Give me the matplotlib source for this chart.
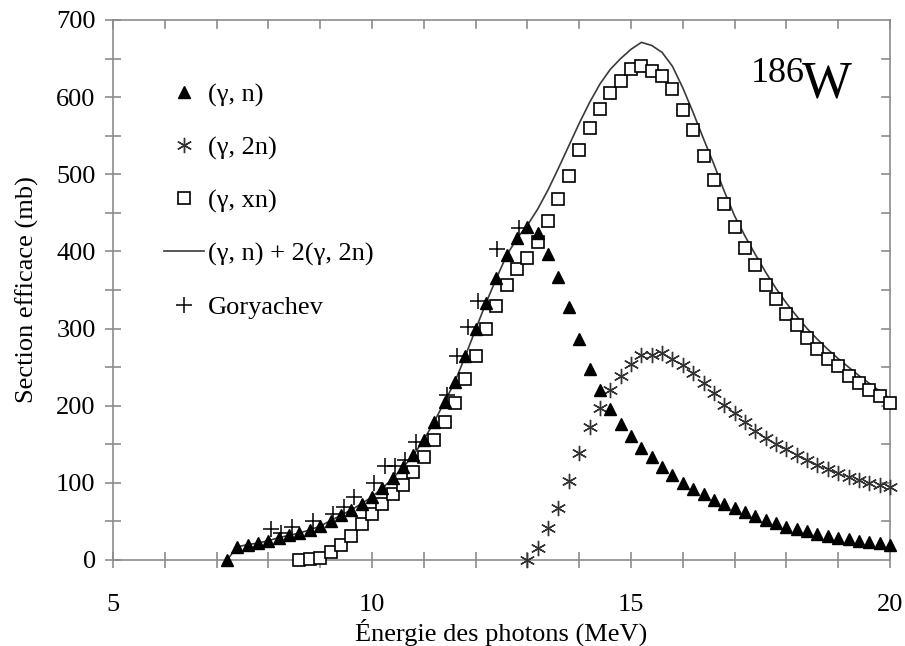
import matplotlib
matplotlib.use("Agg")
import matplotlib.pyplot as plt
from matplotlib.ticker import MultipleLocator

# (gamma, n) - triangles, 0.2 MeV step from 7.2 MeV
e_n = [7.2, 7.4, 7.6, 7.8, 8.0, 8.2, 8.4, 8.6, 8.8, 9.0, 9.2, 9.4, 9.6, 9.8,
       10.0, 10.2, 10.4, 10.6, 10.8, 11.0, 11.2, 11.4, 11.6, 11.8, 12.0, 12.2,
       12.4, 12.6, 12.8, 13.0, 13.2, 13.4, 13.6, 13.8, 14.0, 14.2, 14.4, 14.6,
       14.8, 15.0, 15.2, 15.4, 15.6, 15.8, 16.0, 16.2, 16.4, 16.6, 16.8, 17.0,
       17.2, 17.4, 17.6, 17.8, 18.0, 18.2, 18.4, 18.6, 18.8, 19.0, 19.2, 19.4,
       19.6, 19.8, 20.0]
sig_n = [0, 17, 20, 22, 25, 29, 32, 35, 39, 44, 51, 58, 65, 73,
         82, 93, 106, 120, 136, 156, 179, 205, 231, 264, 299, 333,
         365, 395, 417, 432, 424, 397, 367, 328, 287, 248, 221, 196,
         176, 161, 145, 134, 121, 110, 100, 92, 86, 78, 73, 67,
         62, 57, 52, 48, 43, 40, 37, 34, 31, 29, 27, 25,
         23, 22, 20]

# (gamma, 2n) - asterisks
e_2n = [13.0, 13.2, 13.4, 13.6, 13.8, 14.0, 14.2, 14.4, 14.6, 14.8, 15.0, 15.2,
        15.4, 15.6, 15.8, 16.0, 16.2, 16.4, 16.6, 16.8, 17.0, 17.2, 17.4, 17.6,
        17.8, 18.0, 18.2, 18.4, 18.6, 18.8, 19.0, 19.2, 19.4, 19.6, 19.8, 20.0]
sig_2n = [0, 15, 41, 68, 102, 139, 173, 197, 220, 238, 254, 266,
          266, 268, 261, 253, 242, 230, 216, 201, 190, 179, 167, 158,
          151, 144, 136, 130, 123, 118, 113, 108, 104, 100, 97, 94]

# (gamma, xn) - squares
e_xn = [8.6, 8.8, 9.0, 9.2, 9.4, 9.6, 9.8, 10.0, 10.2, 10.4, 10.6, 10.8,
        11.0, 11.2, 11.4, 11.6, 11.8, 12.0, 12.2, 12.4, 12.6, 12.8, 13.0, 13.2,
        13.4, 13.6, 13.8, 14.0, 14.2, 14.4, 14.6, 14.8, 15.0, 15.2, 15.4, 15.6,
        15.8, 16.0, 16.2, 16.4, 16.6, 16.8, 17.0, 17.2, 17.4, 17.6, 17.8, 18.0,
        18.2, 18.4, 18.6, 18.8, 19.0, 19.2, 19.4, 19.6, 19.8, 20.0]
sig_xn = [0, 1, 3, 11, 19, 31, 47, 60, 73, 85, 97, 114,
          134, 155, 179, 204, 234, 265, 299, 329, 356, 377, 392, 412,
          439, 468, 498, 531, 560, 585, 606, 621, 637, 641, 634, 627,
          610, 583, 557, 524, 493, 462, 432, 405, 382, 357, 338, 319,
          304, 288, 274, 261, 251, 239, 229, 220, 212, 204]

# (gamma, n) + 2(gamma, 2n) - solid line
e_sum = e_n
sig_sum = [0, 17, 20, 22, 25, 29, 32, 35, 39, 44, 51, 58, 65, 73,
           82, 93, 106, 120, 136, 156, 179, 205, 231, 264, 299, 333,
           365, 395, 417, 434, 455, 480, 508, 537, 566, 593, 617, 636,
           650, 662, 671, 667, 658, 640, 612, 580, 546, 513, 478, 446,
           420, 396, 373, 352, 333, 316, 300, 286, 273, 261, 250, 239,
           229, 219, 209]

# Goryachev - plus signs
e_gor = [8.05, 8.25, 8.45, 8.86, 9.25, 9.46, 9.65, 10.03, 10.25, 10.44, 10.64,
         10.85, 11.45, 11.65, 11.85, 12.04, 12.42, 12.83]
sig_gor = [40, 35, 43, 51, 60, 69, 82, 100, 122, 122, 129,
           153, 214, 265, 302, 336, 403, 430]

plt.rcParams['font.family'] = ['Liberation Serif', 'DejaVu Serif']

fig = plt.figure(figsize=(9.05, 6.46), dpi=100)
ax = fig.add_axes([113 / 905, 1 - 560 / 646, 777 / 905, 540 / 646])

gray = '#8c8c8c'
fs = 19
ax.plot(e_sum, sig_sum, '-', color='#3a3a3a', lw=1.2, label='(γ, n) + 2(γ, 2n)', zorder=2)
ax.plot(e_xn, sig_xn, 's', ms=8, mfc='white', mec='black', mew=1.2,
        ls='none', label='(γ, xn)', zorder=3, clip_on=False)
ax.plot(e_2n, sig_2n, marker=(6, 2, 0), ms=11, mec='#333333', mew=1.0,
        ls='none', label='(γ, 2n)', zorder=3, clip_on=False)
ax.plot(e_gor, sig_gor, '+', ms=12, mec='black', mew=1.1,
        ls='none', label='Goryachev', zorder=4)
ax.plot(e_n, sig_n, '^', ms=9, color='black', ls='none',
        label='(γ, n)', zorder=5, clip_on=False)

ax.set_xlim(5, 20)
ax.set_ylim(0, 700)
ax.xaxis.set_major_locator(MultipleLocator(5))
ax.xaxis.set_minor_locator(MultipleLocator(1))
ax.yaxis.set_major_locator(MultipleLocator(100))
ax.yaxis.set_minor_locator(MultipleLocator(50))

for s in ax.spines.values():
    s.set_color(gray)
    s.set_linewidth(1.2)

ax.tick_params(which='both', direction='inout', length=11, width=1.2, color=gray,
               labelsize=fs, labelcolor='black', top=False, right=False)
ax.tick_params(axis='x', pad=19)
ax.tick_params(axis='y', pad=7)

# mirrored inward ticks on top and right
for v in range(5, 21):
    ax.plot([v, v], [700, 700 - 8 / 0.7714], color=gray, lw=1.2, clip_on=False, zorder=1)
for v in range(50, 700, 50):
    ax.plot([20, 20 - 8 / 51.8], [v, v], color=gray, lw=1.2, clip_on=False, zorder=1)

ax.set_xlabel('Énergie des photons (MeV)', fontsize=fs, labelpad=2)
ax.set_ylabel('Section efficace (mb)', fontsize=fs, labelpad=12)

ax.text(17.32, 620, '186', fontsize=26, va='baseline', ha='left')
ax.text(18.30, 600, 'W', fontsize=38, va='baseline', ha='left')

handles, labels = ax.get_legend_handles_labels()
order = ['(γ, n)', '(γ, 2n)', '(γ, xn)', '(γ, n) + 2(γ, 2n)', 'Goryachev']
hmap = dict(zip(labels, handles))
ax.legend([hmap[k] for k in order], order, loc='upper left',
          bbox_to_anchor=(0.066, 0.884), frameon=False, fontsize=fs,
          labelspacing=1.11, handlelength=1.5, handletextpad=0.15,
          borderaxespad=0, borderpad=0)

fig.savefig('out.png', dpi=100)
